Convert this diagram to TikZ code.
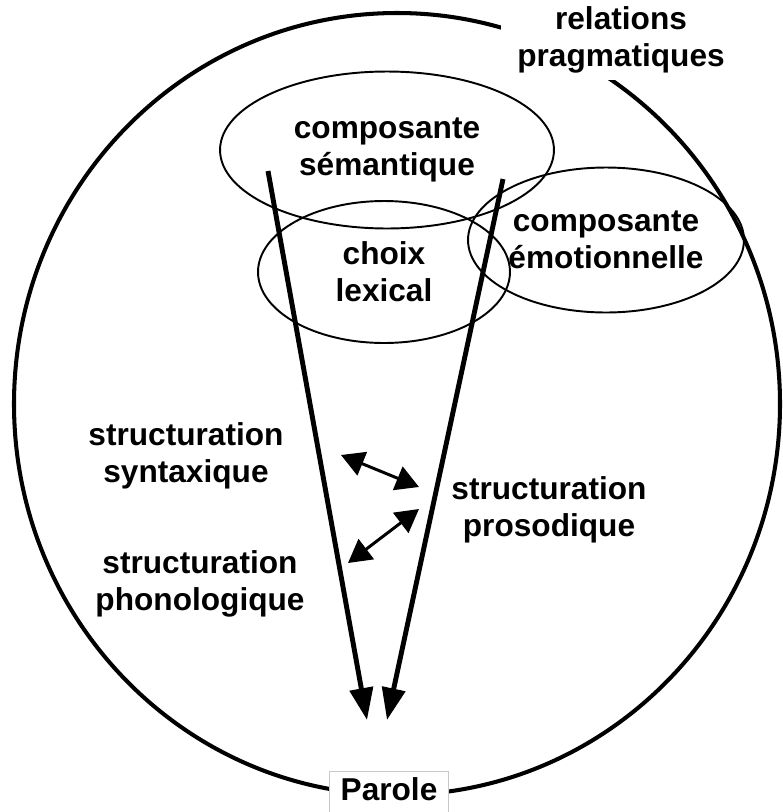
\documentclass[tikz,border=0pt]{standalone}
\usepackage{fontspec}
\setmainfont{Liberation Sans}
\usetikzlibrary{shapes.geometric, arrows.meta}
\definecolor{boxdraw}{HTML}{C8C8C8}
\tikzset{
  lbl/.style={font=\bfseries\fontsize{18}{21}\selectfont, align=center, inner sep=0pt},
  zone/.style={lbl, ellipse, draw, line width=1.1pt},
  flow/.style={-{Triangle[length=0.64cm, width=0.46cm]}, line width=2.8pt},
  link/.style={{Triangle[length=0.46cm, width=0.5cm]}-{Triangle[length=0.46cm, width=0.5cm]}, line width=1.7pt},
}
\begin{document}
\begin{tikzpicture}[x=0.02cm, y=-0.02cm]
  \useasboundingbox (0,0) rectangle (782,812);
  % outer frame
  \draw[line width=2.3pt] (397,404) ellipse [x radius=383, y radius=391];
  \node[lbl, fill=white, inner xsep=0.32cm, inner ysep=0.14cm] (prag) at (621,40) {relations\\pragmatiques};
  \node[lbl, fill=white, draw=boxdraw, line width=0.6pt, anchor=base, inner xsep=0.22cm, inner ysep=0.12cm, text depth=0.8cm] (parole) at (389,800) {Parole};
  % components
  \node[zone, minimum width=6.68cm, minimum height=3.14cm] (sem) at (387,150) {composante\\sémantique};
  \node[zone, minimum width=5.04cm, minimum height=2.84cm] (lex) at (384,272) {choix\\lexical};
  \node[zone, minimum width=5.52cm, minimum height=2.9cm] (emo) at (606,240) {composante\\émotionnelle};
  \node[lbl] (syn) at (186,456) {structuration\\syntaxique};
  \node[lbl] (pho) at (200,584) {structuration\\phonologique};
  \node[lbl] (pros) at (549,510) {structuration\\prosodique};
  % main flow
  \coordinate (semL) at (268,171);
  \coordinate (semR) at (503,179);
  \coordinate (parL) at (367,720);
  \coordinate (parR) at (387,720);
  \draw[flow] (semL) -- (parL);
  \draw[flow] (semR) -- (parR);
  \coordinate (synE) at (341,455);
  \coordinate (phoE) at (348,563);
  \coordinate (prosA) at (419,487);
  \coordinate (prosB) at (419,509);
  \draw[link] (synE) -- (prosA);
  \draw[link] (phoE) -- (prosB);
\end{tikzpicture}
\end{document}
